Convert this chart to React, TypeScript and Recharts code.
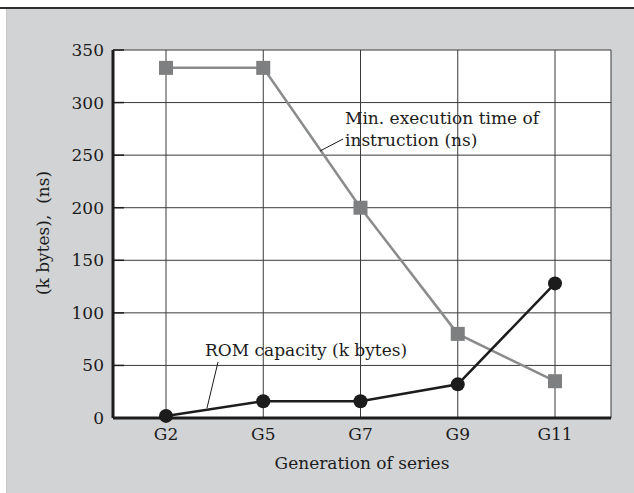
import React from 'react';
import {
  LineChart,
  Line,
  XAxis,
  YAxis,
  CartesianGrid,
} from 'recharts';

// Generations of the series (x categories)
const generations = ['G2', 'G5', 'G7', 'G9', 'G11'];
// Min. execution time of instruction (ns)
const minExecTimeNs = [333, 333, 200, 80, 35];
// ROM capacity (k bytes)
const romCapacityKB = [2, 16, 16, 32, 128];
const yTicks = [0, 50, 100, 150, 200, 250, 300, 350];

const data = generations.map((gen, i) => ({
  gen,
  exec: minExecTimeNs[i],
  rom: romCapacityKB[i],
}));

const FONT = '"DejaVu Serif", "Liberation Serif", serif';
const INK = '#1c1c1c';
const GREY_LINE = '#8a8b8d';
const GREY_MARK = '#7e7f81';

const SquareDot = (props: any) => {
  const { cx, cy, index } = props;
  if (cx == null || cy == null) return null;
  return <rect key={`sq-${index}`} x={cx - 7} y={cy - 7} width={14} height={14} fill={GREY_MARK} />;
};

const CircleDot = (props: any) => {
  const { cx, cy, index } = props;
  if (cx == null || cy == null) return null;
  return <circle key={`ci-${index}`} cx={cx} cy={cy} r={7} fill={INK} />;
};

// y tick label plus the short inward stub drawn on the original figure
const YTick = (props: any) => {
  const { x, y, payload } = props;
  return (
    <g>
      <line x1={x + 9} y1={y} x2={x + 20} y2={y} stroke={INK} strokeWidth={1.5} />
      <text x={x} y={y} dy={6} textAnchor="end" fill={INK} fontSize={17} fontFamily={FONT}>
        {payload.value}
      </text>
    </g>
  );
};

export default function App() {
  return (
    <div style={{ position: 'absolute', left: 0, top: 0, width: 634, height: 493, background: '#fff', overflow: 'hidden' }}>
      {/* figure frame: rule at the top and grey panel */}
      <div style={{ position: 'absolute', left: 0, top: 7, width: 634, height: 2, background: '#2e2e2e' }} />
      <div style={{ position: 'absolute', left: 6, top: 9, right: 0, bottom: 0, background: '#d2d3d5', borderLeft: '1px solid #c4c5c7' }} />

      <div style={{ position: 'absolute', left: 0, top: 0 }}>
        <LineChart
          width={634}
          height={493}
          data={data}
          margin={{ top: 50, right: 23, left: 53, bottom: 20 }}
        >
          <CartesianGrid stroke="#3a3a3a" strokeWidth={1} fill="#ffffff" />
          <XAxis
            dataKey="gen"
            padding={{ left: 53, right: 56 }}
            height={55}
            tickSize={0}
            tickMargin={10}
            axisLine={{ stroke: INK, strokeWidth: 3 }}
            tick={{ fill: INK, fontSize: 17, fontFamily: FONT }}
            label={{ value: 'Generation of series', position: 'insideBottom', offset: 4, fill: INK, fontSize: 17, fontFamily: FONT }}
          />
          <XAxis
            xAxisId="top"
            dataKey="gen"
            orientation="top"
            padding={{ left: 53, right: 56 }}
            height={0}
            tick={false}
            tickLine={false}
            axisLine={{ stroke: INK, strokeWidth: 1.5 }}
          />
          <YAxis
            domain={[0, 350]}
            ticks={yTicks}
            width={60}
            tickSize={0}
            tickMargin={9}
            interval={0}
            axisLine={{ stroke: INK, strokeWidth: 3 }}
            tick={<YTick />}
          />
          <YAxis
            yAxisId="right"
            orientation="right"
            domain={[0, 350]}
            ticks={yTicks}
            width={0}
            tick={false}
            tickLine={false}
            axisLine={{ stroke: INK, strokeWidth: 1.5 }}
          />
          <Line
            type="linear"
            dataKey="exec"
            stroke={GREY_LINE}
            strokeWidth={2.5}
            dot={<SquareDot />}
            isAnimationActive={false}
          />
          <Line
            type="linear"
            dataKey="rom"
            stroke={INK}
            strokeWidth={2.5}
            dot={<CircleDot />}
            isAnimationActive={false}
          />
        </LineChart>
      </div>

      {/* annotations and y axis title */}
      <svg width={634} height={493} style={{ position: 'absolute', left: 0, top: 0, pointerEvents: 'none' }}>
        <text
          x={43}
          y={233}
          transform="rotate(-90 43 233)"
          textAnchor="middle"
          dominantBaseline="central"
          fill={INK}
          fontSize={17}
          fontFamily={FONT}
          style={{ whiteSpace: 'pre' }}
        >
          {'(k bytes),  (ns)'}
        </text>
        <text x={345} y={124} fill={INK} fontSize={17} fontFamily={FONT}>Min. execution time of</text>
        <text x={345} y={146} fill={INK} fontSize={17} fontFamily={FONT}>instruction (ns)</text>
        <line x1={343} y1={139} x2={320} y2={151} stroke={INK} strokeWidth={1} />
        <text x={205} y={356} fill={INK} fontSize={17} fontFamily={FONT}>ROM capacity (k bytes)</text>
        <line x1={218} y1={362} x2={207} y2={408} stroke={INK} strokeWidth={1} />
      </svg>
    </div>
  );
}
